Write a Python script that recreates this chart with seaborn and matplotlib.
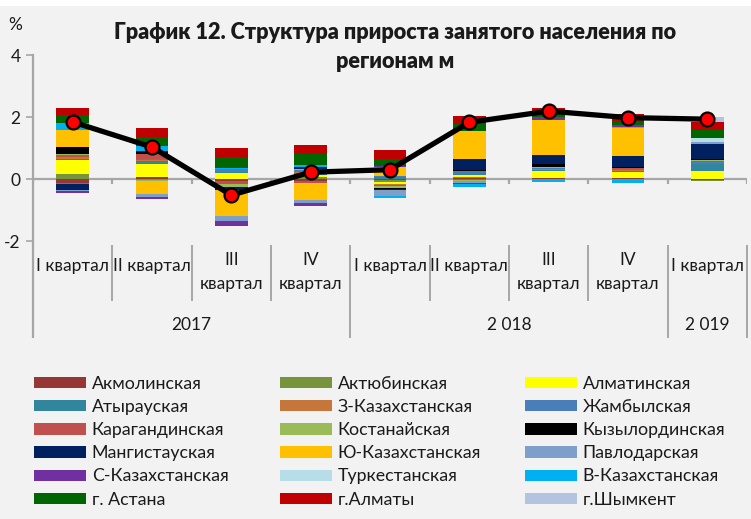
import numpy as np
import seaborn as sns
import matplotlib.pyplot as plt
from matplotlib.patches import Patch, Rectangle

# categories
quarters = ["I квартал", "II квартал", "III\nквартал", "IV\nквартал",
            "I квартал", "II квартал", "III\nквартал", "IV\nквартал", "I квартал"]
years = ["2017", "2 018", "2 019"]
year_first = [0, 4, 8]
year_last = [3, 7, 8]

regions = ["Акмолинская", "Актюбинская", "Алматинская", "Атырауская",
           "З-Казахстанская", "Жамбылская", "Карагандинская", "Костанайская",
           "Кызылординская", "Мангистауская", "Ю-Казахстанская", "Павлодарская",
           "С-Казахстанская", "Туркестанская", "В-Казахстанская", "г. Астана",
           "г.Алматы", "г.Шымкент"]
colors = ["#953735", "#77933C", "#FFFF00", "#31859C", "#C5773B", "#4A7EBB",
          "#C0504D", "#9BBB59", "#000000", "#002060", "#FFC000", "#7F9FCB",
          "#7030A0", "#B7DEE8", "#00B0F0", "#006600", "#C00000", "#B4C3E0"]

# contribution to employment growth, p.p.
akmola      = [-0.12, 0.05, -0.05, -0.05, -0.03, 0.03, 0.02, 0.02, -0.03]
aktobe      = [0.16, -0.04, 0.00, 0.05, -0.08, 0.04, 0.02, 0.02, -0.02]
almaty_obl  = [0.45, 0.43, 0.19, 0.08, -0.05, 0.07, 0.22, 0.19, 0.27]
atyrau      = [0.05, 0.10, 0.05, 0.06, 0.06, 0.04, 0.03, 0.02, 0.20]
zko         = [0.06, 0.03, 0.00, 0.03, -0.04, 0.02, 0.02, 0.03, 0.03]
zhambyl     = [-0.05, 0.03, 0.08, 0.06, 0.03, 0.05, 0.03, 0.03, 0.04]
karaganda   = [0.05, 0.18, -0.12, -0.08, -0.03, -0.04, 0.02, 0.04, 0.04]
kostanay    = [0.05, -0.03, -0.10, 0.03, -0.06, -0.03, 0.04, 0.02, 0.03]
kyzylorda   = [0.20, 0.05, 0.00, 0.02, -0.03, 0.05, 0.08, 0.03, 0.03]
mangystau   = [-0.18, 0.03, -0.08, 0.06, -0.05, 0.35, 0.30, 0.34, 0.50]
yko         = [0.57, -0.42, -0.85, -0.55, 0.31, 0.91, 1.11, 0.91, 0.00]
pavlodar    = [-0.03, -0.08, -0.14, -0.10, -0.17, -0.06, 0.00, 0.04, 0.05]
sko         = [-0.08, -0.06, -0.18, -0.10, 0.02, -0.02, 0.11, 0.05, 0.00]
turkestan   = [0.00, 0.00, 0.00, 0.00, 0.00, 0.00, 0.00, 0.00, 0.14]
vko         = [0.22, 0.18, 0.05, 0.07, -0.07, -0.10, -0.10, -0.14, 0.00]
astana      = [0.26, 0.27, 0.33, 0.36, 0.22, 0.22, 0.12, 0.14, 0.24]
almaty_city = [0.23, 0.28, 0.29, 0.28, 0.29, 0.26, 0.16, 0.22, 0.27]
shymkent    = [0.00, 0.00, 0.00, 0.00, 0.00, 0.00, 0.00, 0.00, 0.16]

total = [1.84, 1.03, -0.52, 0.22, 0.30, 1.83, 2.19, 1.98, 1.93]

series = [akmola, aktobe, almaty_obl, atyrau, zko, zhambyl, karaganda, kostanay,
          kyzylorda, mangystau, yko, pavlodar, sko, turkestan, vko, astana,
          almaty_city, shymkent]

sns.set_theme(style="white")
plt.rcParams['font.family'] = ['Lato', 'DejaVu Sans']
bg = "#F2F2F2"
grey = "#A6A6A6"
ink = "#1A1A1A"

fig = plt.figure(figsize=(7.51, 5.19), dpi=100, facecolor=bg)
fig.patches.append(Rectangle((0, 1 - 6 / 519), 1, 6 / 519, transform=fig.transFigure,
                             facecolor="white", edgecolor="none", zorder=0))
ax = fig.add_axes([33 / 751, 1 - 241 / 519, 714 / 751, 186 / 519])
ax.set_facecolor(bg)

# stacked bars: positives grow up from 0, negatives grow down, in series order
x = np.arange(len(quarters))
pos_base = np.zeros(len(x))
neg_base = np.zeros(len(x))
for vals, col in zip(series, colors):
    v = np.array(vals)
    bottom = np.where(v >= 0, pos_base, neg_base)
    ax.bar(x, v, width=0.41, bottom=bottom, color=col, linewidth=0, zorder=2)
    pos_base += np.clip(v, 0, None)
    neg_base += np.clip(v, None, 0)

ax.axhline(0, color=grey, lw=1.6, zorder=1)
ax.vlines(np.arange(-0.5, 9, 1), -0.17, 0, color=grey, lw=1.6, zorder=1)

sns.lineplot(x=x, y=total, ax=ax, color="black", lw=3.8, marker="o",
             markersize=10, markerfacecolor="#FF0000", markeredgecolor="black",
             markeredgewidth=1.6, zorder=5)

ax.set_xlim(-0.5, 8.5)
ax.set_ylim(-2, 4)
ax.set_yticks([-2, 0, 2, 4])
ax.set_yticklabels(["-2", "0", "2", "4"])
ax.set_xticks([])
ax.tick_params(axis="y", direction="out", length=5, width=1.2, color=grey,
               labelsize=12.5, pad=4, left=True, labelcolor=ink)
for s in ["top", "right", "bottom"]:
    ax.spines[s].set_visible(False)
ax.spines["left"].set_color(grey)
ax.spines["left"].set_linewidth(1.6)

# multi-level category labels
tr = ax.get_xaxis_transform()
for i, q in enumerate(quarters):
    yq = -0.165 if "\n" in q else -0.135
    ax.text(i, yq, q, transform=tr, ha="center", va="center", fontsize=12.5,
            color=ink, linespacing=1.6)
for y, a, b in zip(years, year_first, year_last):
    ax.text((a + b) / 2, -0.452, y, transform=tr, ha="center", va="center",
            fontsize=12.5, color=ink)
inner = [0.5, 1.5, 2.5, 4.5, 5.5, 6.5]
outer = [-0.5, 3.5, 7.5, 8.5]
ax.vlines(inner, -0.32, -0.02, transform=tr, color=grey, lw=1.4, clip_on=False)
ax.vlines(outer, -0.52, -0.02, transform=tr, color=grey, lw=1.4, clip_on=False)
ax.vlines([-0.5], -0.52, 0, transform=tr, color=grey, lw=1.6, clip_on=False)

fig.text(8 / 751, 1 - 25 / 519, "%", fontsize=12.5, color=ink, va="center")
fig.text(395 / 751, 1 - 47 / 519,
         "График 12. Структура прироста занятого населения по\nрегионам м",
         ha="center", va="center", fontsize=15.6, fontweight="heavy",
         color=ink, linespacing=1.45)

# legend: three columns, filled row by row
handles = [Patch(facecolor=c, edgecolor="none") for c in colors]
for col in range(3):
    idx = list(range(col, len(regions), 3))
    leg = fig.legend([handles[i] for i in idx], [regions[i] for i in idx],
                     loc="upper left",
                     bbox_to_anchor=([34, 280, 525][col] / 751, 1 - 376 / 519),
                     frameon=False, fontsize=12.8, handlelength=2.95,
                     handleheight=0.6, handletextpad=0.3, labelspacing=0.4,
                     borderpad=0, borderaxespad=0)
    for t in leg.get_texts():
        t.set_color(ink)

fig.savefig("out.png", dpi=100, facecolor=bg)
